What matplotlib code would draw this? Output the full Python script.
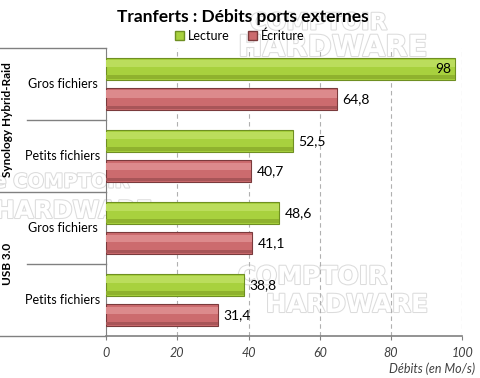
import matplotlib
matplotlib.use('Agg')
import matplotlib.pyplot as plt
import matplotlib.patheffects as pe
from matplotlib.lines import Line2D
from matplotlib.transforms import blended_transform_factory
import numpy as np

# data
categories = ['Gros fichiers', 'Petits fichiers', 'Gros fichiers', 'Petits fichiers']
groups = ['Synology Hybrid-Raid', 'USB 3.0']
lecture = [98, 52.5, 48.6, 38.8]
ecriture = [64.8, 40.7, 41.1, 31.4]
series_names = ['Lecture', 'Écriture']
xticks = [0, 20, 40, 60, 80, 100]

plt.rcParams['font.family'] = ['Lato', 'DejaVu Sans']

green = '#a8d13e'
red = '#cc6b6e'

W, H = 480, 378
fig = plt.figure(figsize=(4.8, 3.78), dpi=100)
ax = fig.add_axes([0.221, 0.111, 0.742, 0.762])
ax.set_facecolor('none')

# faint watermark text behind the chart (right edge x, centre y in pixels)
wm = dict(color='white', fontweight='bold', zorder=-1, ha='right', va='center',
          family='DejaVu Sans',
          path_effects=[pe.withStroke(linewidth=1.5, foreground='#dcdcdc')])
for xr, yc, txt, fs in [(130, 182, 'Le COMPTOIR', 14), (152, 211, 'HARDWARE', 17.5),
                        (387, 23, 'COMPTOIR', 16.5), (427, 48, 'HARDWARE', 21),
                        (387, 277, 'COMPTOIR', 18), (428, 305, 'HARDWARE', 18)]:
    fig.text(xr / W, 1 - yc / H, txt, fontsize=fs, **wm)

y = np.arange(len(categories))
h = 0.30
ax.barh(y - 0.21, lecture, height=h, color=green, edgecolor='#6f8f22', linewidth=0.8, zorder=3)
ax.barh(y + 0.21, ecriture, height=h, color=red, edgecolor='#7a3a3c', linewidth=0.8, zorder=3)
# light top band and dark bottom band for a bevel look
ax.barh(y - 0.21 - 0.07, lecture, height=0.1, color='#bbdd5c', linewidth=0, zorder=4)
ax.barh(y + 0.21 - 0.07, ecriture, height=0.1, color='#dc8a8c', linewidth=0, zorder=4)
ax.barh(y - 0.21 + 0.115, lecture, height=0.05, color='#8fb22e', linewidth=0, zorder=4)
ax.barh(y + 0.21 + 0.115, ecriture, height=0.05, color='#a85558', linewidth=0, zorder=4)

def fmt(v):
    return ('%g' % v).replace('.', ',')

for i, v in enumerate(lecture):
    if v > 90:
        ax.text(v - 1.2, i - 0.21, fmt(v), ha='right', va='center', fontsize=10, zorder=5)
    else:
        ax.text(v + 1.5, i - 0.21, fmt(v), ha='left', va='center', fontsize=10, zorder=5)
for i, v in enumerate(ecriture):
    ax.text(v + 1.5, i + 0.21, fmt(v), ha='left', va='center', fontsize=10, zorder=5)

ax.set_xlim(0, 100)
ax.set_ylim(3.5, -0.5)
ax.set_xticks(xticks)
ax.set_xticklabels([str(t) for t in xticks], style='italic', fontsize=9, color='#404040')
ax.set_yticks([])
ax.tick_params(axis='x', direction='out', length=3, color='#808080', pad=5)
ax.grid(axis='x', linestyle=(0, (4, 3)), color='#b0b0b0', linewidth=0.8, zorder=0)
for s in ['top', 'right']:
    ax.spines[s].set_visible(False)
ax.spines['left'].set_color('#808080')
ax.spines['bottom'].set_color('#808080')
ax.spines['bottom'].set_linewidth(1.2)

# category labels on the left
tr = blended_transform_factory(ax.transAxes, ax.transData)
for i, c in enumerate(categories):
    ax.text(-0.121, i, c, transform=tr, ha='center', va='center', fontsize=9)
for j, g in enumerate(groups):
    ax.text(-0.278, 2 * j + 0.5, g, transform=tr, ha='center', va='center',
            rotation=90, fontsize=8.5, fontweight='bold')

# separator lines
for yy, x0 in [(-0.5, -0.298), (0.5, -0.222), (1.5, -0.298), (2.5, -0.222), (3.5, -0.298)]:
    ax.add_line(Line2D([x0, 0], [yy, yy], transform=tr, color='#808080',
                       linewidth=1, clip_on=False))

fig.text(0.505, 0.955, 'Tranferts : Débits ports externes', ha='center', va='center',
         fontsize=12.5, fontweight='bold')

handles = [plt.Rectangle((0, 0), 1, 1, facecolor=green, edgecolor='#6f8f22'),
           plt.Rectangle((0, 0), 1, 1, facecolor=red, edgecolor='#7a3a3c')]
fig.legend(handles, series_names, loc='center', bbox_to_anchor=(0.5, 0.905), ncol=2,
           frameon=False, fontsize=9, handlelength=0.7, handleheight=0.7,
           handletextpad=0.3, columnspacing=1.5, borderpad=0)

fig.text(0.99, 0.024, 'Débits (en Mo/s)', ha='right', va='center', fontsize=9,
         style='italic', color='#404040')

fig.savefig('out.png', dpi=100)
